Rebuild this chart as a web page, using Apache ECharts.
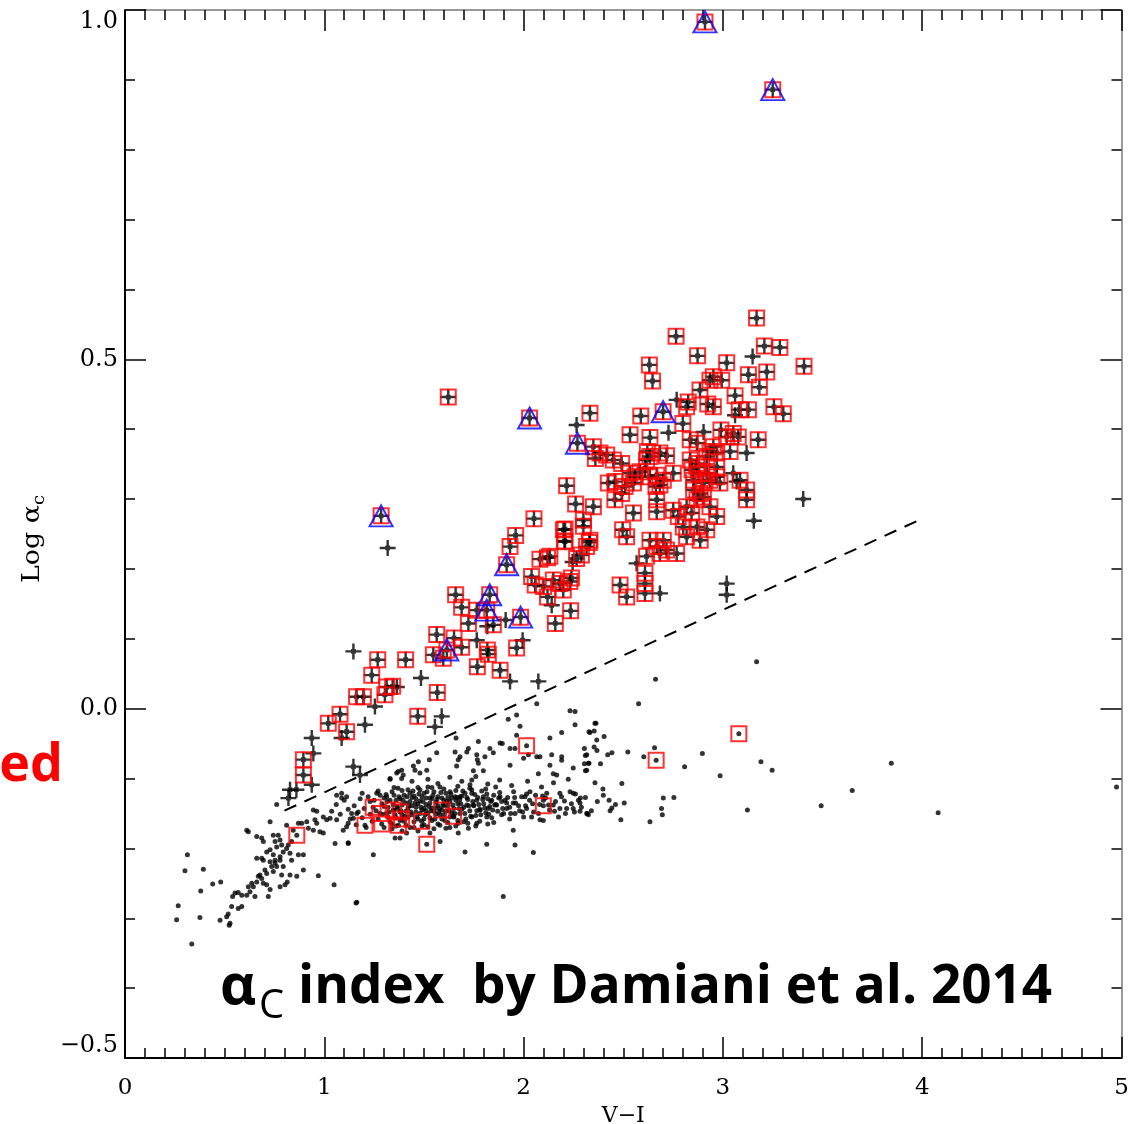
<!DOCTYPE html>
<html>
<head>
<meta charset="utf-8">
<script src="https://cdn.jsdelivr.net/npm/echarts@6/dist/echarts.min.js"></script>
<style>
  html, body { margin: 0; padding: 0; background: #fff; }
  #chart { width: 1133px; height: 1124px; }
</style>
</head>
<body>
<div id="chart"></div>
<script>
// V-I colour vs log alpha_c index.
const xTickValues = [0, 1, 2, 3, 4, 5];
const yTickValues = [-0.5, 0.0, 0.5, 1.0];

// Field population (small dots), lower sequence.
const plainDots = [
  [0.313,-0.209],[0.301,-0.232],[0.393,-0.230],[0.267,-0.282],[0.259,-0.302],[0.335,-0.337],[0.380,-0.261],[0.376,-0.299],
  [0.440,-0.251],[0.480,-0.248],[0.477,-0.303],[0.518,-0.294],[0.510,-0.298],[0.527,-0.307],[0.523,-0.310],[0.535,-0.283],
  [0.568,-0.286],[0.586,-0.283],[0.540,-0.269],[0.552,-0.264],[0.568,-0.263],[0.586,-0.267],[0.611,-0.267],[0.627,-0.262],
  [0.619,-0.255],[0.644,-0.255],[0.636,-0.250],[0.661,-0.248],[0.652,-0.269],[0.669,-0.240],[0.686,-0.243],[0.677,-0.238],
  [0.694,-0.250],[0.711,-0.252],[0.719,-0.269],[0.728,-0.259],[0.702,-0.231],[0.711,-0.236],[0.736,-0.226],[0.744,-0.233],
  [0.753,-0.221],[0.728,-0.219],[0.761,-0.226],[0.753,-0.217],[0.686,-0.214],[0.694,-0.217],[0.661,-0.214],[0.711,-0.205],
  [0.728,-0.202],[0.744,-0.209],[0.778,-0.212],[0.761,-0.198],[0.778,-0.217],[0.794,-0.226],[0.786,-0.238],[0.778,-0.255],
  [0.803,-0.252],[0.814,-0.248],[0.828,-0.238],[0.862,-0.240],[0.895,-0.231],[0.970,-0.239],[1.049,-0.252],[1.159,-0.278],
  [0.753,-0.190],[0.778,-0.188],[0.786,-0.195],[0.769,-0.181],[0.744,-0.181],[0.794,-0.205],[0.811,-0.200],[0.828,-0.207],
  [0.836,-0.217],[0.870,-0.209],[0.895,-0.209],[0.819,-0.195],[0.836,-0.190],[0.661,-0.183],[0.686,-0.185],[0.694,-0.190],
  [0.611,-0.174],[0.619,-0.176],[0.728,-0.162],[0.811,-0.167],[0.844,-0.174],[0.870,-0.164],[0.887,-0.164],[0.912,-0.162],
  [0.920,-0.171],[0.945,-0.174],[0.953,-0.159],[0.962,-0.164],[0.978,-0.176],[0.995,-0.178],[1.012,-0.159],[1.029,-0.157],
  [0.995,-0.155],[1.037,-0.147],[1.062,-0.159],[0.945,-0.145],[0.962,-0.147],[0.761,-0.137],[1.054,-0.193],[1.120,-0.192],
  [1.095,-0.174],[1.112,-0.169],[1.137,-0.150],[1.146,-0.157],[1.120,-0.164],[1.246,-0.209],[1.163,-0.150],[1.062,-0.124],
  [1.087,-0.128],[1.112,-0.126],[1.087,-0.121],[1.330,-0.100],[1.363,-0.092],[1.263,-0.121],[1.313,-0.126],
  [2.066,0.007],[1.965,-0.009],[1.923,-0.015],[1.982,-0.025],[2.233,-0.003],[2.258,-0.004],[2.258,-0.023],[2.358,-0.021],
  [2.191,-0.034],[2.333,-0.034],[2.132,-0.042],[2.367,-0.045],[1.661,-0.042],[1.773,-0.047],[1.882,-0.049],[1.893,-0.050],
  [1.831,-0.057],[1.723,-0.057],[1.715,-0.062],[1.656,-0.062],[1.848,-0.063],[1.564,-0.063],[1.765,-0.066],[1.768,-0.073],
  [1.773,-0.078],[1.806,-0.069],[1.681,-0.069],[1.672,-0.073],[1.932,-0.057],[1.957,-0.057],[2.024,-0.066],[2.082,-0.069],
  [2.141,-0.066],[2.191,-0.069],[2.317,-0.066],[1.472,-0.076],[1.527,-0.073],[1.447,-0.082],[1.455,-0.088],[1.388,-0.088],
  [1.371,-0.090],[1.514,-0.088],[1.664,-0.082],[1.748,-0.089],[1.798,-0.089],[1.932,-0.081],[2.132,-0.081],[2.249,-0.085],
  [2.325,-0.078],[2.317,-0.088],[1.330,-0.101],[1.388,-0.100],[1.396,-0.095],[1.480,-0.092],[1.740,-0.102],[1.731,-0.109],
  [2.166,-0.095],[2.224,-0.101],[2.074,-0.093],[1.965,-0.038],[2.000,-0.071],[2.066,-0.069],[2.149,-0.093],[2.191,-0.074],
  [1.120,-0.193],[1.355,-0.185],[1.380,-0.185],[1.413,-0.178],[1.581,-0.190],[1.672,-0.178],[1.815,-0.194],[1.957,-0.195],
  [2.049,-0.206],[1.706,-0.205],[1.530,-0.178],[1.898,-0.269],[1.163,-0.277],[1.948,-0.174],[2.082,-0.159],[2.099,-0.160],
  [2.233,-0.119],[2.249,-0.121],[2.275,-0.131],[2.283,-0.135],[2.317,-0.150],[2.325,-0.152],[2.216,-0.143],[2.182,-0.143],
  [2.149,-0.138],[2.175,-0.155],[2.032,-0.119],[2.007,-0.126],[2.015,-0.143],[2.040,-0.155],[1.948,-0.135],[1.957,-0.150],
  [1.907,-0.131],[1.915,-0.143],[1.882,-0.126],[1.865,-0.138],[1.890,-0.152],[1.840,-0.131],[1.823,-0.143],[1.815,-0.155],
  [1.782,-0.145],[1.798,-0.126],[1.765,-0.131],[1.748,-0.138],[1.740,-0.116],[1.706,-0.121],[1.681,-0.126],[1.715,-0.138],
  [1.740,-0.155],[1.765,-0.164],[1.723,-0.171],[1.672,-0.164],[1.631,-0.119],[1.656,-0.126],[2.099,-0.131],[2.116,-0.121],
  [2.249,-0.143],[2.182,-0.121],
  [3.169,0.067],[2.662,0.042],[2.577,0.007],[2.363,-0.021],[2.328,-0.033],[2.354,-0.032],[2.404,-0.040],[2.305,-0.057],
  [2.354,-0.055],[2.368,-0.060],[2.310,-0.067],[2.422,-0.066],[2.443,-0.063],[2.523,-0.062],[2.603,-0.069],[2.657,-0.056],
  [2.897,-0.064],[2.808,-0.083],[2.986,-0.096],[3.191,-0.076],[3.247,-0.088],[3.845,-0.078],[3.649,-0.117],[3.493,-0.139],
  [3.123,-0.145],[4.080,-0.149],[4.975,-0.112],[2.305,-0.079],[2.328,-0.078],[2.310,-0.089],[2.386,-0.079],[2.358,-0.106],
  [2.398,-0.115],[2.493,-0.107],[2.701,-0.128],[2.754,-0.127],[2.692,-0.143],[2.696,-0.152],[2.429,-0.131],[2.461,-0.137],
  [2.505,-0.135],[2.434,-0.146],[2.443,-0.142],[2.319,-0.150],[2.283,-0.147],[2.488,-0.159],[2.634,-0.162],
  [1.19,-0.121],[1.23,-0.133],[1.27,-0.118],[1.30,-0.128],[1.32,-0.141],[1.34,-0.119],[1.36,-0.131],[1.37,-0.114],
  [1.39,-0.138],[1.40,-0.124],[1.41,-0.147],[1.42,-0.116],[1.43,-0.133],[1.44,-0.152],[1.45,-0.125],[1.46,-0.141],
  [1.47,-0.113],[1.47,-0.158],[1.48,-0.132],[1.49,-0.145],[1.50,-0.121],[1.50,-0.166],[1.51,-0.137],[1.52,-0.150],
  [1.52,-0.112],[1.53,-0.128],[1.54,-0.142],[1.54,-0.160],[1.55,-0.119],[1.56,-0.134],[1.56,-0.151],[1.57,-0.126],
  [1.58,-0.143],[1.58,-0.112],[1.59,-0.158],[1.60,-0.131],[1.61,-0.147],[1.61,-0.121],[1.62,-0.139],[1.63,-0.155],
  [1.64,-0.128],[1.65,-0.143],[1.66,-0.117],[1.67,-0.136],[1.68,-0.150],[1.69,-0.125],[1.70,-0.141],[1.71,-0.158],
  [1.72,-0.130],[1.73,-0.146],[1.74,-0.121],[1.75,-0.139],[1.76,-0.153],[1.77,-0.127],[1.78,-0.144],[1.79,-0.118],
  [1.80,-0.136],[1.81,-0.149],[1.82,-0.129],[1.83,-0.140],[1.84,-0.156],[1.85,-0.124],[1.86,-0.137],[1.87,-0.147],
  [1.88,-0.120],[1.89,-0.133],[1.90,-0.150],[1.92,-0.127],[1.93,-0.141],[1.95,-0.119],[1.96,-0.135],[1.98,-0.146],
  [1.99,-0.126],[2.01,-0.139],[2.03,-0.131],[2.05,-0.148],[2.06,-0.124],[2.08,-0.137],[2.11,-0.128],[2.13,-0.145],
  [2.16,-0.133],[2.19,-0.126],[2.21,-0.150],[2.24,-0.136],[2.26,-0.122],[2.29,-0.141],[2.31,-0.127],[2.34,-0.146],
  [2.37,-0.133],[2.40,-0.124],
  [1.31,-0.150],[1.33,-0.162],[1.35,-0.145],[1.36,-0.156],[1.38,-0.129],[1.39,-0.152],[1.40,-0.161],[1.41,-0.135],
  [1.42,-0.155],[1.43,-0.121],[1.44,-0.139],[1.45,-0.162],[1.46,-0.129],[1.48,-0.150],[1.49,-0.126],[1.49,-0.168],
  [1.51,-0.146],[1.53,-0.156],[1.53,-0.135],[1.55,-0.147],[1.57,-0.165],[1.57,-0.139],[1.59,-0.128],[1.60,-0.152],
  [1.62,-0.163],[1.63,-0.133],[1.64,-0.149],[1.66,-0.131],[1.67,-0.160],[1.69,-0.144],
  [1.29,-0.136],[1.31,-0.123],[1.33,-0.131],[1.35,-0.124],[1.37,-0.143],[1.38,-0.160],[1.42,-0.142],[1.44,-0.127],
  [1.46,-0.148],[1.47,-0.136],[1.50,-0.143],[1.51,-0.128],[1.52,-0.169],[1.54,-0.129],[1.56,-0.142],[1.58,-0.152],
  [1.60,-0.139],[1.62,-0.127],[1.65,-0.155],[1.68,-0.130],
  [1.06,-0.137],[1.08,-0.151],[1.10,-0.131],[1.12,-0.144],[1.13,-0.158],[1.15,-0.139],[1.16,-0.166],[1.17,-0.148],
  [1.18,-0.129],[1.19,-0.156],[1.20,-0.143],[1.21,-0.170],[1.22,-0.126],[1.23,-0.151],[1.24,-0.161],[1.25,-0.131],
  [1.26,-0.146],[1.27,-0.158],[1.28,-0.124],[1.29,-0.151],[1.30,-0.170],[1.32,-0.155],[1.34,-0.172],[1.36,-0.168],
  [1.39,-0.175],[1.43,-0.170],[1.47,-0.175],[1.55,-0.172],[1.61,-0.171],[1.66,-0.168],[1.72,-0.164],[1.78,-0.161],
  [1.85,-0.163],[1.93,-0.158],[2.00,-0.155],
  [1.44,-0.104],[1.52,-0.101],[1.57,-0.107],[1.63,-0.098],[1.69,-0.104],[1.76,-0.097],[1.82,-0.108],[1.88,-0.102],
  [1.94,-0.110],[2.02,-0.104],[2.09,-0.112],[2.15,-0.106],
  [1.300,-0.140],[1.315,-0.133],[1.325,-0.148],[1.345,-0.137],[1.355,-0.152],[1.365,-0.140],[1.375,-0.126],[1.385,-0.146],
  [1.395,-0.131],[1.405,-0.154],[1.415,-0.126],[1.425,-0.139],[1.435,-0.148],[1.445,-0.118],[1.455,-0.135],[1.465,-0.155],
  [1.475,-0.122],[1.485,-0.141],[1.495,-0.133],[1.505,-0.152],[1.515,-0.119],[1.525,-0.140],[1.535,-0.146],[1.545,-0.124],
  [1.555,-0.158],[1.565,-0.130],[1.575,-0.148],[1.585,-0.120],[1.595,-0.137],[1.605,-0.160],[1.615,-0.133],[1.625,-0.146],
  [1.635,-0.122],[1.645,-0.138],[1.655,-0.150],[1.665,-0.127],[1.675,-0.143],[1.685,-0.136],[1.695,-0.118],[1.705,-0.150],
  [1.715,-0.127],[1.725,-0.139],[1.735,-0.154],[1.745,-0.133],[1.755,-0.123],[1.765,-0.146],[1.775,-0.137],[1.785,-0.152],
  [1.795,-0.130],[1.805,-0.142],[1.815,-0.122],[1.825,-0.151],[1.835,-0.133],[1.845,-0.145],[1.855,-0.138],[1.875,-0.128],
  [1.895,-0.143],[1.915,-0.135],[1.935,-0.150],[1.955,-0.127],[1.975,-0.139],[1.995,-0.148],[2.015,-0.122],[2.045,-0.136],
  [2.075,-0.150],[2.095,-0.125],[2.125,-0.138],[2.155,-0.147],[2.205,-0.132],[2.255,-0.148],[2.285,-0.128],
  [1.35,-0.113],[1.39,-0.117],[1.48,-0.116],[1.54,-0.113],[1.60,-0.115],[1.67,-0.111],[1.73,-0.114],[1.81,-0.115],
  [1.86,-0.112],[1.34,-0.165],[1.41,-0.167],[1.45,-0.170],[1.50,-0.158],[1.58,-0.167],[1.63,-0.170],[1.70,-0.162],
  [1.76,-0.168],[1.82,-0.165]
];

// Dots that also carry a red box.
const boxedDots = [
  [0.862,-0.181],[1.245,-0.141],[1.279,-0.150],[1.204,-0.167],[1.288,-0.165],[1.346,-0.145],[1.380,-0.148],[1.388,-0.158],
  [1.372,-0.167],[1.488,-0.161],[1.589,-0.145],[1.648,-0.154],[1.514,-0.194],[2.015,-0.053],[2.099,-0.139],[2.665,-0.074],
  [3.080,-0.036]
];

// Upper sequence (plus markers) without a box.
const plainCrosses = [
  [2.266,0.406],[1.318,0.230],[2.246,0.210],[2.141,0.148],[1.818,0.118],[1.910,0.127],[1.765,0.098],[1.995,0.098],
  [1.932,0.039],[2.074,0.039],[1.146,0.082],[1.364,0.031],[1.485,0.044],[1.589,-0.011],[1.555,-0.026],[1.254,0.003],
  [1.204,-0.023],[0.937,-0.042],[1.087,-0.042],[0.945,-0.064],[0.828,-0.116],[0.820,-0.128],[0.860,-0.116],[0.937,-0.109],
  [1.146,-0.083],[1.179,-0.095],[3.149,0.504],[2.768,0.442],[2.727,0.395],[2.903,0.396],[3.119,0.366],[2.609,0.344],
  [3.052,0.337],[3.069,0.325],[2.567,0.208],[2.684,0.165],[3.403,0.300],[3.155,0.269],[3.019,0.179],[3.019,0.163],
  [3.061,0.420]
];

// Upper sequence with a red box.
const boxedCrosses = [
  [1.622,0.446],[2.333,0.423],[2.350,0.375],[2.360,0.358],[2.216,0.319],[2.261,0.293],[2.350,0.289],[2.300,0.270],
  [2.300,0.261],[2.052,0.272],[2.208,0.257],[1.960,0.248],[2.205,0.240],[2.330,0.238],[1.932,0.232],[2.082,0.214],
  [2.120,0.216],[2.290,0.220],[2.040,0.189],[2.058,0.177],[2.149,0.184],[2.182,0.179],[2.199,0.170],[2.232,0.182],
  [2.240,0.187],[2.236,0.140],[2.159,0.122],[1.659,0.163],[1.689,0.145],[1.723,0.122],[1.765,0.141],[1.848,0.120],
  [1.564,0.106],[1.651,0.101],[1.965,0.087],[1.818,0.084],[1.689,0.088],[1.547,0.077],[1.597,0.072],[1.823,0.078],
  [1.768,0.060],[1.882,0.055],[1.268,0.070],[1.408,0.070],[1.238,0.048],[1.313,0.031],[1.343,0.032],[1.304,0.020],
  [1.567,0.023],[1.469,-0.011],[1.162,0.017],[1.196,0.017],[1.079,-0.008],[1.020,-0.021],[1.112,-0.033],[0.895,-0.073],
  [0.895,-0.095],[2.120,0.160],[2.100,0.175],
  [3.169,0.559],[2.765,0.533],[3.208,0.519],[3.286,0.517],[2.873,0.505],[2.631,0.492],[3.019,0.495],[2.647,0.469],
  [3.407,0.490],[3.128,0.478],[3.220,0.482],[3.183,0.460],[2.952,0.475],[2.994,0.470],[2.935,0.470],[2.885,0.456],
  [3.061,0.448],[2.924,0.436],[2.952,0.432],[2.826,0.439],[2.818,0.432],[3.082,0.428],[3.128,0.428],[3.256,0.432],
  [3.303,0.422],[2.588,0.419],[2.534,0.392],[2.634,0.388],[2.799,0.408],[2.836,0.385],[2.870,0.380],[2.990,0.399],
  [3.052,0.394],[3.077,0.389],[3.177,0.385],[3.019,0.389],[2.952,0.375],[2.935,0.368],[2.969,0.366],[3.036,0.368],
  [2.383,0.366],[2.417,0.363],[2.450,0.356],[2.492,0.351],[2.621,0.368],[2.634,0.361],[2.617,0.356],[2.684,0.366],
  [2.717,0.362],[2.836,0.356],[2.870,0.351],[2.845,0.342],[2.919,0.361],[2.969,0.346],[2.425,0.323],[2.458,0.325],
  [2.534,0.337],[2.559,0.332],[2.584,0.339],[2.509,0.318],[2.551,0.323],[2.634,0.332],[2.668,0.334],[2.701,0.327],
  [2.664,0.318],[2.684,0.320],[2.751,0.337],[2.870,0.346],[2.878,0.337],[2.853,0.327],[2.919,0.337],[2.935,0.327],
  [2.902,0.323],[2.969,0.332],[2.985,0.323],[3.086,0.327],[3.119,0.313],[3.119,0.299],[2.492,0.308],[2.458,0.299],
  [2.668,0.299],[2.668,0.282],[2.751,0.284],[2.776,0.275],[2.551,0.280],[2.497,0.256],[2.517,0.246],[2.818,0.289],
  [2.843,0.280],[2.870,0.299],[2.902,0.303],[2.935,0.289],[2.969,0.275],[2.853,0.313],[2.886,0.308],[2.801,0.260],
  [2.818,0.246],[2.870,0.260],[2.919,0.256],[2.634,0.241],[2.668,0.232],[2.701,0.241],[2.717,0.227],[2.768,0.222],
  [2.684,0.222],[2.617,0.218],[2.609,0.194],[2.609,0.179],[2.609,0.165],[2.484,0.177],[2.517,0.160],[2.132,0.218],
  [2.200,0.256],[2.208,0.239],[2.266,0.215],[2.316,0.232],[2.333,0.241],[2.886,0.241]
];

// Upper sequence with a red box and a blue triangle.
const flaggedCrosses = [
  [2.910,0.983],[3.250,0.886],[2.030,0.416],[2.270,0.380],[2.700,0.425],[1.285,0.276],[1.915,0.206],[1.830,0.163],
  [1.815,0.141],[1.985,0.131],[1.615,0.084]
];

// Dividing line between the two sequences.
const dividerLine = [[0.80, -0.146], [4.00, 0.272]];

const crossSymbol = 'path://M0,6.8H16V9.2H0Z M6.8,0H9.2V16H6.8Z M5.6,5.6H10.4V10.4H5.6Z';
const labelFont = 'DejaVu Serif';
const titleFont = 'Open Sans';

function fmtY(v) {
  const s = Math.abs(v).toFixed(1);
  return v < 0 ? '\u2212' + s : s;
}

function makeXAxis(bottom) {
  return {
    type: 'value', min: 0, max: 5, interval: 1,
    position: bottom ? 'bottom' : 'top',
    axisLine: { show: true, onZero: false, lineStyle: { color: bottom ? '#000' : '#7a7a7a', width: bottom ? 2 : 1.5 } },
    axisTick: { show: true, inside: true, length: 21, lineStyle: { color: '#000', width: 1.5 } },
    minorTick: { show: true, splitNumber: 10, length: 10, lineStyle: { color: '#000', width: 1.5 } },
    splitLine: { show: false }, minorSplitLine: { show: false },
    axisLabel: {
      show: bottom, margin: 19, color: '#000', fontFamily: labelFont, fontSize: 23,
      formatter: v => xTickValues.includes(v) ? String(v) : ''
    },
    name: bottom ? 'V\u2212I' : '',
    nameLocation: 'middle', nameGap: 44,
    nameTextStyle: { color: '#000', fontFamily: labelFont, fontSize: 22 }
  };
}

function makeYAxis(left) {
  return {
    type: 'value', min: -0.5, max: 1.0, interval: 0.5,
    position: left ? 'left' : 'right',
    axisLine: { show: true, onZero: false, lineStyle: { color: left ? '#000' : '#7a7a7a', width: left ? 2 : 1.5 } },
    axisTick: { show: true, inside: true, length: 21, lineStyle: { color: '#000', width: 1.5 } },
    minorTick: { show: true, splitNumber: 5, length: 10, lineStyle: { color: '#000', width: 1.5 } },
    splitLine: { show: false }, minorSplitLine: { show: false },
    axisLabel: {
      show: left, margin: 7, color: '#000', fontFamily: labelFont, fontSize: 24,
      verticalAlignMaxLabel: 'top', verticalAlignMinLabel: 'bottom',
      formatter: v => yTickValues.some(t => Math.abs(t - v) < 1e-9) ? fmtY(v) : ''
    }
  };
}

const chart = echarts.init(document.getElementById('chart'), null, { renderer: 'canvas' });

chart.setOption({
  animation: false,
  backgroundColor: '#fff',
  grid: { left: 125, right: 11.5, top: 10, bottom: 66, containLabel: false, outerBoundsMode: 'none' },
  xAxis: [makeXAxis(true), makeXAxis(false)],
  yAxis: [makeYAxis(true), makeYAxis(false)],
  series: [
    {
      name: 'dots', type: 'scatter', silent: true, progressive: 0, large: false,
      symbol: 'circle', symbolSize: 5,
      itemStyle: { color: '#000' },
      data: plainDots.concat(boxedDots)
    },
    {
      name: 'crosses', type: 'scatter', silent: true, progressive: 0,
      symbol: crossSymbol, symbolSize: 16,
      itemStyle: { color: '#000' },
      data: plainCrosses.concat(boxedCrosses, flaggedCrosses)
    },
    {
      name: 'boxes', type: 'scatter', silent: true, progressive: 0,
      symbol: 'rect', symbolSize: 15,
      itemStyle: { color: 'rgba(0,0,0,0)', borderColor: '#ff0000', borderWidth: 2 },
      data: boxedCrosses.concat(boxedDots, flaggedCrosses)
    },
    {
      name: 'triangles', type: 'scatter', silent: true, progressive: 0,
      symbol: 'triangle', symbolSize: [23, 21],
      itemStyle: { color: 'rgba(0,0,0,0)', borderColor: '#0000ff', borderWidth: 2 },
      data: flaggedCrosses
    },
    {
      name: 'divider', type: 'line', silent: true, symbol: 'none',
      lineStyle: { color: '#000', width: 2, type: [13, 9] },
      data: dividerLine
    }
  ],
  graphic: [
    {
      type: 'text', x: 33, y: 539, rotation: Math.PI / 2, scaleX: 1.12, silent: true,
      style: {
        text: '{a|Log \u03b1}{c|c}', align: 'center', verticalAlign: 'middle',
        font: '24px "' + labelFont + '"', fill: '#000',
        rich: {
          a: { font: '24px "' + labelFont + '"', fill: '#000', lineHeight: 30, verticalAlign: 'middle' },
          c: { font: '16px "' + labelFont + '"', fill: '#000', lineHeight: 16, verticalAlign: 'bottom' }
        }
      }
    },
    {
      type: 'text', x: 63, y: 766, silent: true,
      style: { text: 'ed', fill: '#ff0000', font: 'bold 52px "' + titleFont + '"', align: 'right', verticalAlign: 'middle' }
    },
    {
      type: 'text', x: 220, y: 988, silent: true,
      style: { text: '\u03b1', fill: '#000', font: 'bold 56px "' + titleFont + '"', align: 'left', verticalAlign: 'middle' }
    },
    {
      type: 'text', x: 259, y: 1007, silent: true,
      style: { text: 'C', fill: '#000', font: '40px "' + titleFont + '"', align: 'left', verticalAlign: 'middle' }
    },
    {
      type: 'text', x: 298, y: 988, silent: true,
      style: { text: 'index  by Damiani et al. 2014', fill: '#000', font: 'bold 53px "' + titleFont + '"', align: 'left', verticalAlign: 'middle' }
    }
  ]
});
</script>
</body>
</html>
